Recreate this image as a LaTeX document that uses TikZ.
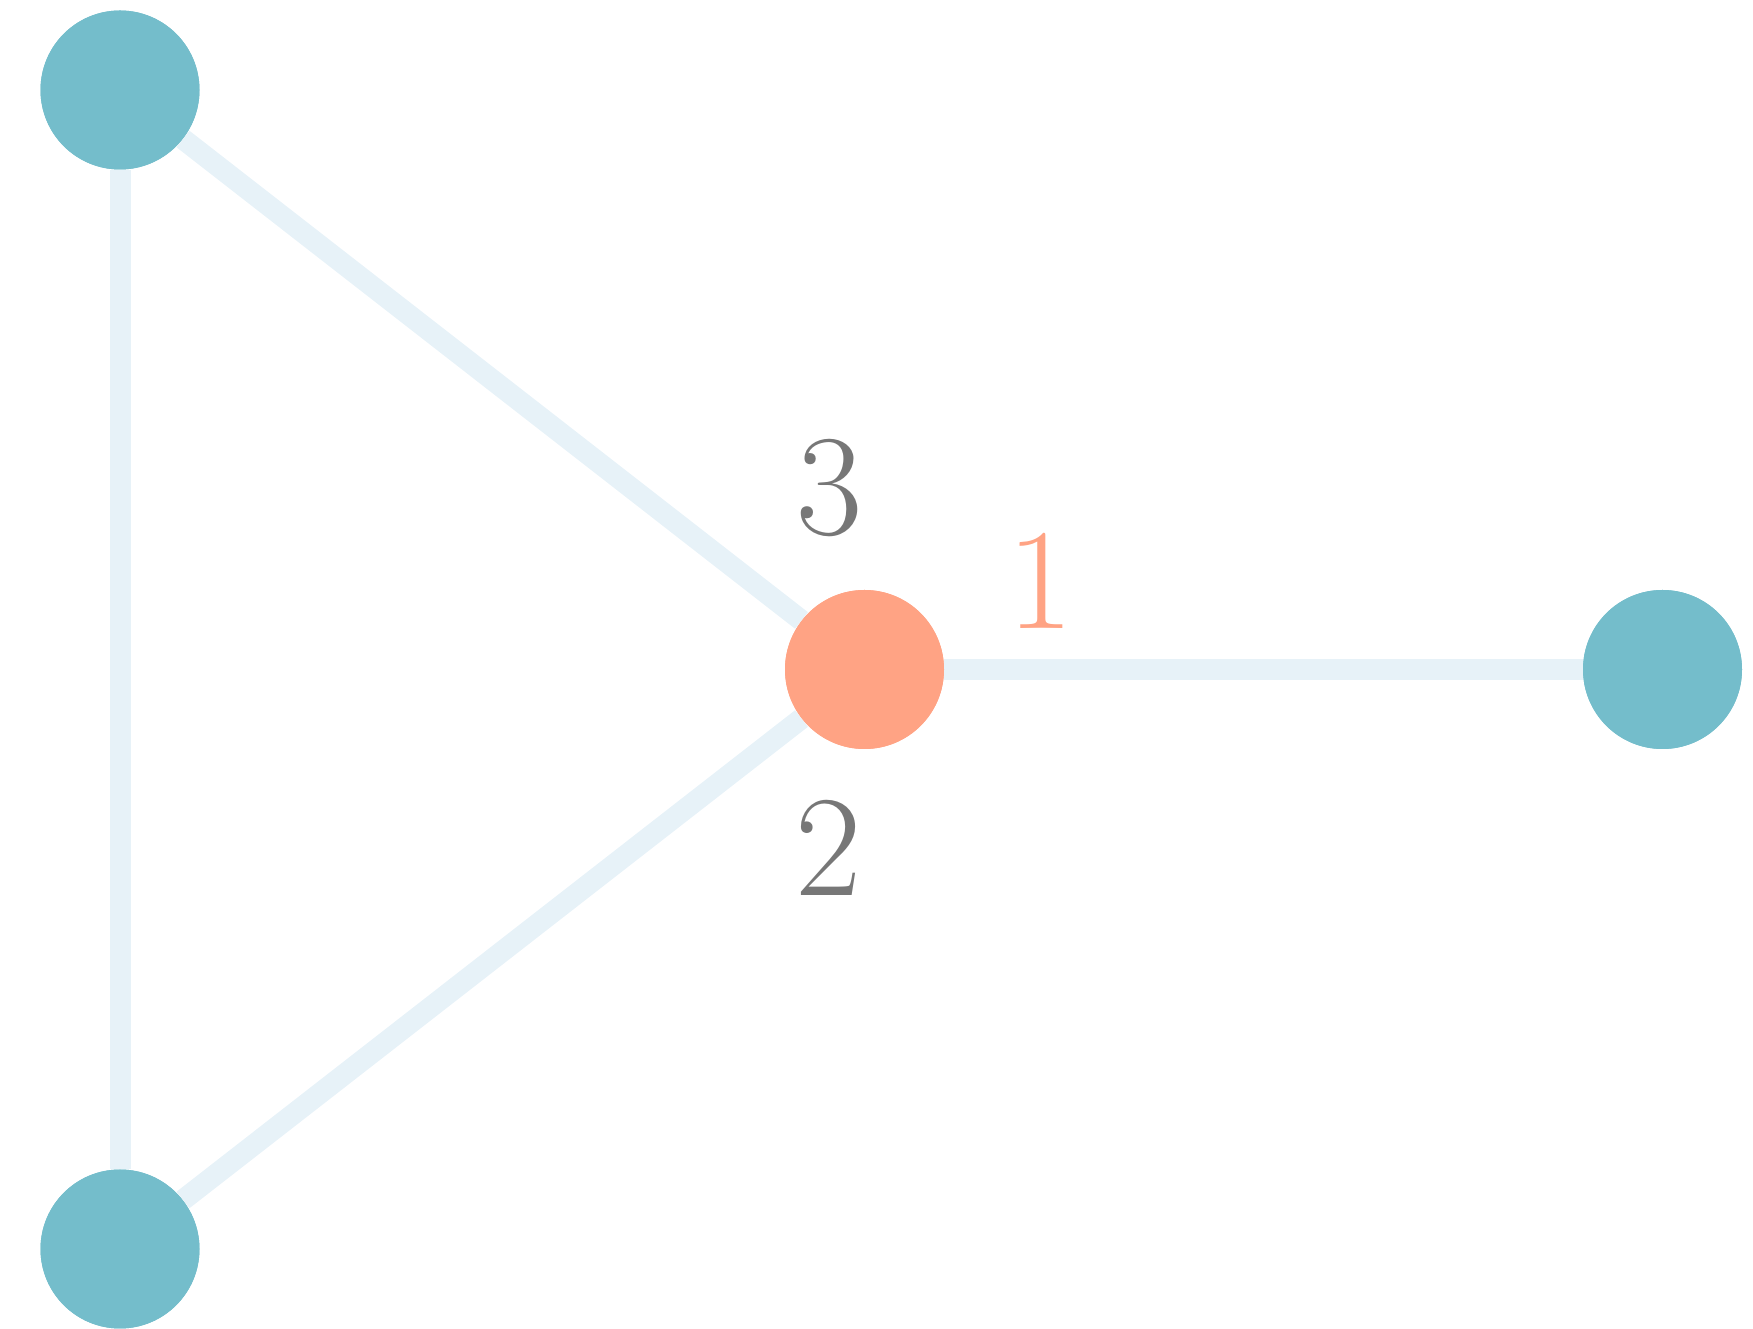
\documentclass[tikz,border=0pt]{standalone}
\usetikzlibrary{positioning}
\definecolor{vertexteal}{RGB}{116,189,203}
\definecolor{rootsalmon}{RGB}{255,163,132}
\definecolor{edgeblue}{RGB}{231,242,248}
\definecolor{labelgray}{RGB}{119,119,119}

\begin{document}
\begin{tikzpicture}[
  vertex/.style={circle,fill=vertexteal,minimum size=3.18cm,inner sep=0pt},
  root/.style={vertex,fill=rootsalmon},
  link/.style={edgeblue,line width=0.42cm},
  portlabel/.style={inner sep=0pt,font=\fontsize{82}{84}\selectfont,labelgray}]

%% ── canvas ───────────────────────────────────────────────────────────────────
\useasboundingbox (0,0) rectangle (35.06,26.58);

%% ── vertices ─────────────────────────────────────────────────────────────────
\node[vertex] (top)    at (2.40,24.78) {};
\node[vertex] (bottom) at (2.40,1.60)  {};
\node[root]   (centre) at (17.29,13.19) {};
\node[vertex] (right)  at (33.25,13.19) {};

%% ── edges ────────────────────────────────────────────────────────────────────
\draw[link] (top) -- (bottom);
\draw[link] (top) -- (centre);
\draw[link] (bottom) -- (centre);
\draw[link] (centre) -- (right);

%% redraw vertices on top of the edges
\node[vertex] at (top) {};
\node[vertex] at (bottom) {};
\node[root]   at (centre) {};
\node[vertex] at (right) {};

%% ── port labels ──────────────────────────────────────────────────────────────
\node[portlabel,text=rootsalmon] (one) at (20.82,14.96) {1};
\node[portlabel] (two)   at (16.58,9.62)  {2};
\node[portlabel] (three) at (16.60,16.82) {3};

\end{tikzpicture}
\end{document}
